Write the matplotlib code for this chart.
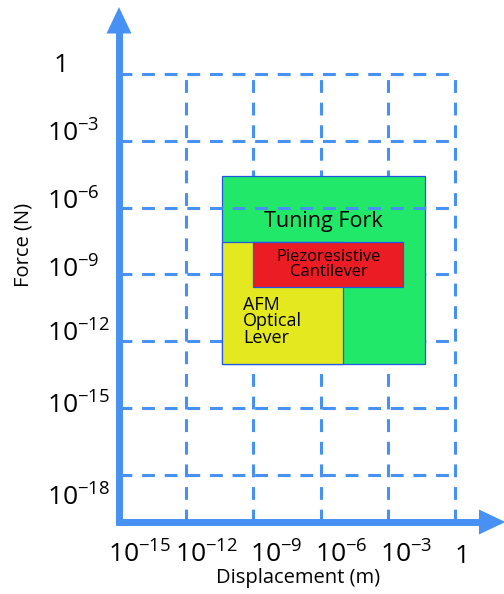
import matplotlib
matplotlib.use('Agg')
import matplotlib.pyplot as plt
from matplotlib.patches import Rectangle

plt.rcParams['font.family'] = ['Open Sans', 'DejaVu Sans']
plt.rcParams['mathtext.fontset'] = 'custom'
plt.rcParams['mathtext.rm'] = 'Open Sans'
plt.rcParams['mathtext.it'] = 'Open Sans:italic'
plt.rcParams['mathtext.bf'] = 'Open Sans:bold'

# ---- data (decade exponents, log10 of metres / newtons) ----
x_ticks = [-15, -12, -9, -6, -3, 0]
x_tick_labels = [r'$\mathrm{10^{-15}}$', r'$\mathrm{10^{-12}}$', r'$\mathrm{10^{-9}}$',
                 r'$\mathrm{10^{-6}}$', r'$\mathrm{10^{-3}}$', '1']
y_ticks = [0, -3, -6, -9, -12, -15, -18]
y_tick_labels = ['1', r'$\mathrm{10^{-3}}$', r'$\mathrm{10^{-6}}$', r'$\mathrm{10^{-9}}$',
                 r'$\mathrm{10^{-12}}$', r'$\mathrm{10^{-15}}$', r'$\mathrm{10^{-18}}$']

regions = ['Tuning Fork', 'AFM\nOptical\nLever', 'Piezoresistive\nCantilever']
disp_min = [-10.4, -10.4, -9.0]
disp_max = [-1.35, -5.0, -2.3]
force_min = [-13.0, -13.0, -9.55]
force_max = [-4.6, -7.55, -7.55]
region_colors = ['#22e86a', '#e4e81e', '#ec1c24']

# ---- layout ----
W, H = 504, 594
fig = plt.figure(figsize=(W / 100, H / 100), dpi=100)
ax = fig.add_axes([119 / W, (H - 522) / H, (504 - 119) / W, 522 / H])
ax.set_xlim(-15, 2.19)
ax.set_ylim(-20.11, 3.32)
ax.axis('off')

blue = '#4891f4'
edge = '#2255e6'

# grid lines
for yv in y_ticks:
    ax.plot([x_ticks[0], x_ticks[-1]], [yv, yv], color=blue, lw=2.2,
            dashes=(4.2, 3.2), zorder=4 if yv == -6 else 1, solid_capstyle='butt')
for xv in x_ticks[1:]:
    ax.plot([xv, xv], [-20.11, y_ticks[0]], color=blue, lw=2.2,
            dashes=(4.2, 3.2), zorder=1)

# regions
for i, name in enumerate(regions):
    ax.add_patch(Rectangle((disp_min[i], force_min[i]), disp_max[i] - disp_min[i],
                           force_max[i] - force_min[i], facecolor=region_colors[i],
                           edgecolor=edge, lw=0.9, zorder=2 + i * 0.1 if i < 2 else 3))

# region labels
ax.text((disp_min[0] + disp_max[0]) / 2, -6.64, regions[0], ha='center', va='center',
        fontsize=15.5, zorder=5)
ax.text(-9.46, -11.11, regions[1], ha='left', va='center', fontsize=13,
        linespacing=0.92, zorder=5)
ax.text((disp_min[2] + disp_max[2]) / 2, (force_min[2] + force_max[2]) / 2, regions[2],
        ha='center', va='center', fontsize=12, linespacing=0.85, zorder=5)

# axes with arrows
x0, ybot = -15, -20.11
ax.plot([x0, x0], [ybot - 0.14, 2.0], color=blue, lw=5, solid_capstyle='butt',
        clip_on=False, zorder=6)
ax.plot([x0 - 0.14, 1.4], [ybot, ybot], color=blue, lw=5, solid_capstyle='butt',
        clip_on=False, zorder=6)
ax.annotate('', xy=(x0, 3.0), xytext=(x0, 1.9),
            arrowprops=dict(arrowstyle='-|>,head_length=0.95,head_width=0.45',
                            mutation_scale=20, color=blue, lw=0, shrinkA=0, shrinkB=0),
            annotation_clip=False, zorder=7)
ax.annotate('', xy=(2.25, ybot), xytext=(1.3, ybot),
            arrowprops=dict(arrowstyle='-|>,head_length=0.95,head_width=0.45',
                            mutation_scale=20, color=blue, lw=0, shrinkA=0, shrinkB=0),
            annotation_clip=False, zorder=7)

# tick labels
x_off = [21, 20, 23, 21, 18, 7]
for xv, lab, dx in zip(x_ticks, x_tick_labels, x_off):
    ax.annotate(lab, xy=(xv, ybot), xytext=(dx, -41), textcoords='offset pixels',
                ha='center', va='baseline', fontsize=19, annotation_clip=False)
y_off = [2, -1, -2, -3.5, -0.6, -5, -31]
for yv, lab, dy in zip(y_ticks, y_tick_labels, y_off):
    if lab == '1':
        ax.annotate(lab, xy=(x0, yv), xytext=(-58, dy), textcoords='offset pixels',
                    ha='center', va='baseline', fontsize=19, annotation_clip=False)
    else:
        ax.annotate(lab, xy=(x0, yv), xytext=(-72, dy), textcoords='offset pixels',
                    ha='left', va='baseline', fontsize=19, annotation_clip=False)

fig.text(298 / W, 1 - 578 / H, 'Displacement (m)', ha='center', va='center', fontsize=14.5)
fig.text(24 / W, 1 - 245 / H, 'Force (N)', ha='center', va='center', fontsize=14.5,
         rotation=90)

fig.savefig('out.png', dpi=100)
